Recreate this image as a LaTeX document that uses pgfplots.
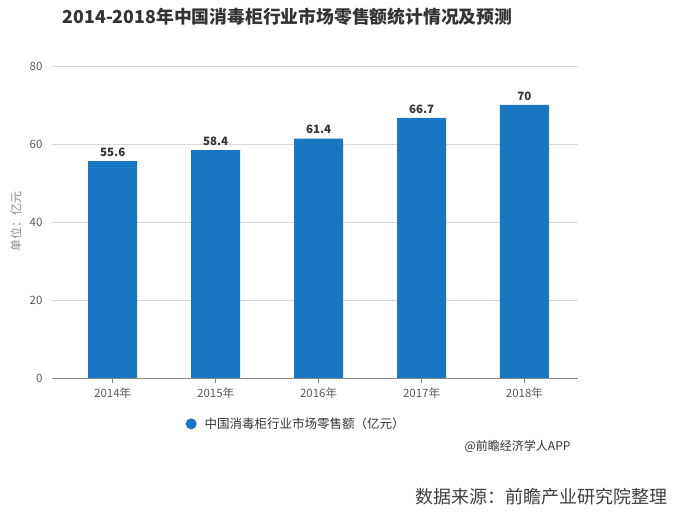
\documentclass[border=0pt]{standalone}
\usepackage{fontspec}
\setmainfont{Noto Sans CJK SC}
\usepackage{pgfplots}
\pgfplotsset{compat=1.18}
\definecolor{barblue}{RGB}{24,118,194}
\definecolor{ticktxt}{RGB}{90,90,90}
\definecolor{titletxt}{RGB}{51,51,51}
\begin{document}
\begin{tikzpicture}
\fill[white] (0pt,0pt) rectangle (678pt,513pt);
\begin{axis}[
  at={(52pt,135pt)}, anchor=south west, scale only axis,
  width=526pt, height=312pt,
  xmin=-0.59, xmax=4.52, ymin=0, ymax=80,
  ytick={0,20,40,60,80},
  xtick={0,1,2,3,4},
  xticklabels={2014年,2015年,2016年,2017年,2018年},
  /pgf/number format/assume math mode=true,
  ybar, bar width=49pt,
  ymajorgrids, grid style={draw=black!15, line width=0.8pt},
  axis x line*=bottom, axis y line*=left,
  x axis line style={draw=black!45, line width=0.8pt, -},
  y axis line style={draw=none},
  ytick style={draw=none},
  xtick style={draw=black!45, line width=0.8pt},
  tick align=outside, major tick length=5pt,
  tick label style={font=\fontsize{11.5}{13}\selectfont, text=ticktxt},
  yticklabel style={xshift=-1pt},
  xticklabel style={yshift=-1pt},
  nodes near coords,
  nodes near coords style={font=\bfseries\fontsize{11.5}{13}\selectfont, text=titletxt, yshift=1pt},
  legend style={at={(0.248,-0.147)}, anchor=west, draw=none, fill=none,
    font=\fontsize{12.5}{14}\selectfont, text=titletxt},
  legend image code/.code={\fill[barblue] (0pt,0pt) circle (5.5pt);},
]
\addplot[fill=barblue, draw=none] coordinates {(0,55.6) (1,58.4) (2,61.4) (3,66.7) (4,70)};
\addlegendentry{\hspace{6pt}中国消毒柜行业市场零售额（亿元）}
\end{axis}
\node[font=\bfseries\fontsize{17.8}{20}\selectfont, text=titletxt] at (287.5pt,496pt) {2014-2018年中国消毒柜行业市场零售额统计情况及预测};
\node[rotate=90, font=\fontsize{12}{14}\selectfont, text=black!45] at (16pt,291pt) {单位：亿元};
\node[anchor=east, font=\fontsize{12}{14}\selectfont, text=black!80] at (574pt,67pt) {@前瞻经济学人APP};
\node[anchor=east, font=\fontsize{18}{20}\selectfont, text=black!75] at (671pt,16pt) {数据来源：前瞻产业研究院整理};
\end{tikzpicture}
\end{document}
